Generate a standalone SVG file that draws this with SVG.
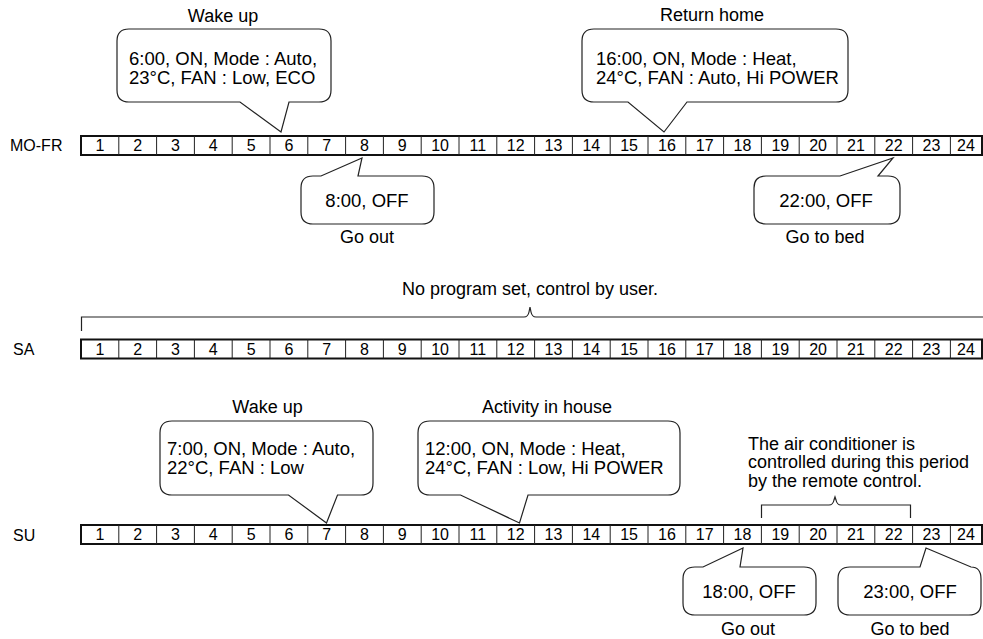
<svg xmlns="http://www.w3.org/2000/svg" xmlns:xlink="http://www.w3.org/1999/xlink" width="983" height="639" viewBox="0 0 983 639">
<style>
text{font-family:"Liberation Sans",Arial,sans-serif;fill:#000}
.num{font-size:16px;text-anchor:middle}
.lbl{font-size:16px}
.cap{font-size:18px;text-anchor:middle}
.ct{font-size:18.5px}
.cc{font-size:18.5px;text-anchor:middle}
.note{font-size:18px}
.bub{fill:#fff;stroke:#222;stroke-width:1.2}
.frame{fill:#fff;stroke:#111;stroke-width:2}
.sep{stroke:#222;stroke-width:1}
.br{fill:none;stroke:#222;stroke-width:1.2}
</style>
<defs>
<g id="row">
<rect class="frame" x="81" y="0" width="901" height="19"/>
<path class="sep" d="M118.8 0V19M156.6 0V19M194.4 0V19M232.2 0V19M270 0V19M307.8 0V19M345.6 0V19M383.4 0V19M421.2 0V19M459 0V19M496.8 0V19M534.6 0V19M572.4 0V19M610.2 0V19M648 0V19M685.8 0V19M723.6 0V19M761.4 0V19M799.2 0V19M837 0V19M874.8 0V19M912.6 0V19M950.4 0V19"/>
<text class="num" x="99.9" y="15">1</text>
<text class="num" x="137.7" y="15">2</text>
<text class="num" x="175.5" y="15">3</text>
<text class="num" x="213.3" y="15">4</text>
<text class="num" x="251.1" y="15">5</text>
<text class="num" x="288.9" y="15">6</text>
<text class="num" x="326.7" y="15">7</text>
<text class="num" x="364.5" y="15">8</text>
<text class="num" x="402.3" y="15">9</text>
<text class="num" x="440.1" y="15">10</text>
<text class="num" x="477.9" y="15">11</text>
<text class="num" x="515.7" y="15">12</text>
<text class="num" x="553.5" y="15">13</text>
<text class="num" x="591.3" y="15">14</text>
<text class="num" x="629.1" y="15">15</text>
<text class="num" x="666.9" y="15">16</text>
<text class="num" x="704.7" y="15">17</text>
<text class="num" x="742.5" y="15">18</text>
<text class="num" x="780.3" y="15">19</text>
<text class="num" x="818.1" y="15">20</text>
<text class="num" x="855.9" y="15">21</text>
<text class="num" x="893.7" y="15">22</text>
<text class="num" x="931.5" y="15">23</text>
<text class="num" x="966" y="15">24</text>
</g>
</defs>
<rect x="0" y="0" width="983" height="639" fill="#fff"/>

<g id="row-mofr">
<text class="lbl" x="10" y="151">MO-FR</text>
<use xlink:href="#row" href="#row" transform="translate(0,136)"/>
</g>
<g id="row-sa">
<text class="lbl" x="13" y="355">SA</text>
<use xlink:href="#row" href="#row" transform="translate(0,339.5)"/>
</g>
<g id="row-su">
<text class="lbl" x="13" y="541">SU</text>
<use xlink:href="#row" href="#row" transform="translate(0,525)"/>
</g>

<g id="connectors">
<path class="br" d="M81.5 331V317H524Q528 317 529 312L530 307L531 312Q532 317 536 317H983"/>
<path class="br" d="M761.5 518V505H829Q833 505 834 500L835 497L836 500Q837 505 841 505H910.5V518"/>
</g>

<g id="mofr-wake">
<text class="cap" x="223" y="22">Wake up</text>
<path class="bub" d="M129 29H319Q331 29 331 41V90Q331 102 319 102H289L281 132L240 102H129Q117 102 117 90V41Q117 29 129 29Z"/>
<text class="ct" x="129" y="65">6:00, ON, Mode : Auto,</text>
<text class="ct" x="129" y="84">23°C, FAN : Low, ECO</text>
</g>

<g id="mofr-return">
<text class="cap" x="712" y="21">Return home</text>
<path class="bub" d="M594 29H836Q848 29 848 41V90Q848 102 836 102H687L664 132L628 102H594Q582 102 582 90V41Q582 29 594 29Z"/>
<text class="ct" x="596" y="65">16:00, ON, Mode : Heat,</text>
<text class="ct" x="596" y="84">24°C, FAN : Auto, Hi POWER</text>
</g>

<g id="mofr-goout">
<path class="bub" d="M313 176H321L362 158L358 176H422Q434 176 434 188V212Q434 224 422 224H313Q301 224 301 212V188Q301 176 313 176Z"/>
<text class="cc" x="367" y="207">8:00, OFF</text>
<text class="cap" x="367" y="243">Go out</text>
</g>

<g id="mofr-bed">
<path class="bub" d="M766 176H840L893 158L878 176H888Q900 176 900 188V212Q900 224 888 224H766Q754 224 754 212V188Q754 176 766 176Z"/>
<text class="cc" x="826" y="207">22:00, OFF</text>
<text class="cap" x="825" y="243">Go to bed</text>
</g>

<g id="sa-note">
<text class="cap" x="530" y="295">No program set, control by user.</text>
</g>

<g id="su-wake">
<text class="cap" x="267.5" y="413">Wake up</text>
<path class="bub" d="M172 421H361Q373 421 373 433V483Q373 495 361 495H337.5L326.5 523L288.5 495H172Q160 495 160 483V433Q160 421 172 421Z"/>
<text class="ct" x="167" y="455">7:00, ON, Mode : Auto,</text>
<text class="ct" x="167" y="474">22°C, FAN : Low</text>
</g>

<g id="su-activity">
<text class="cap" x="547" y="413">Activity in house</text>
<path class="bub" d="M430 421H668Q680 421 680 433V483Q680 495 668 495H528L519.5 523L460.5 495H430Q418 495 418 483V433Q418 421 430 421Z"/>
<text class="ct" x="425" y="455">12:00, ON, Mode : Heat,</text>
<text class="ct" x="425" y="474">24°C, FAN : Low, Hi POWER</text>
</g>

<g id="su-remote">
<text class="note" x="748" y="450">The air conditioner is</text>
<text class="note" x="748" y="468.3">controlled during this period</text>
<text class="note" x="748" y="486.6">by the remote control.</text>
</g>

<g id="su-goout">
<path class="bub" d="M695 567H703L743 548L740 567H804Q816 567 816 579V603Q816 615 804 615H695Q683 615 683 603V579Q683 567 695 567Z"/>
<text class="cc" x="749" y="598">18:00, OFF</text>
<text class="cap" x="748" y="635">Go out</text>
</g>

<g id="su-bed">
<path class="bub" d="M850 567H920L926 548L971 567Q981 567 981 579V603Q981 615 969 615H850Q838 615 838 603V579Q838 567 850 567Z"/>
<text class="cc" x="910" y="598">23:00, OFF</text>
<text class="cap" x="910" y="635">Go to bed</text>
</g>
</svg>
